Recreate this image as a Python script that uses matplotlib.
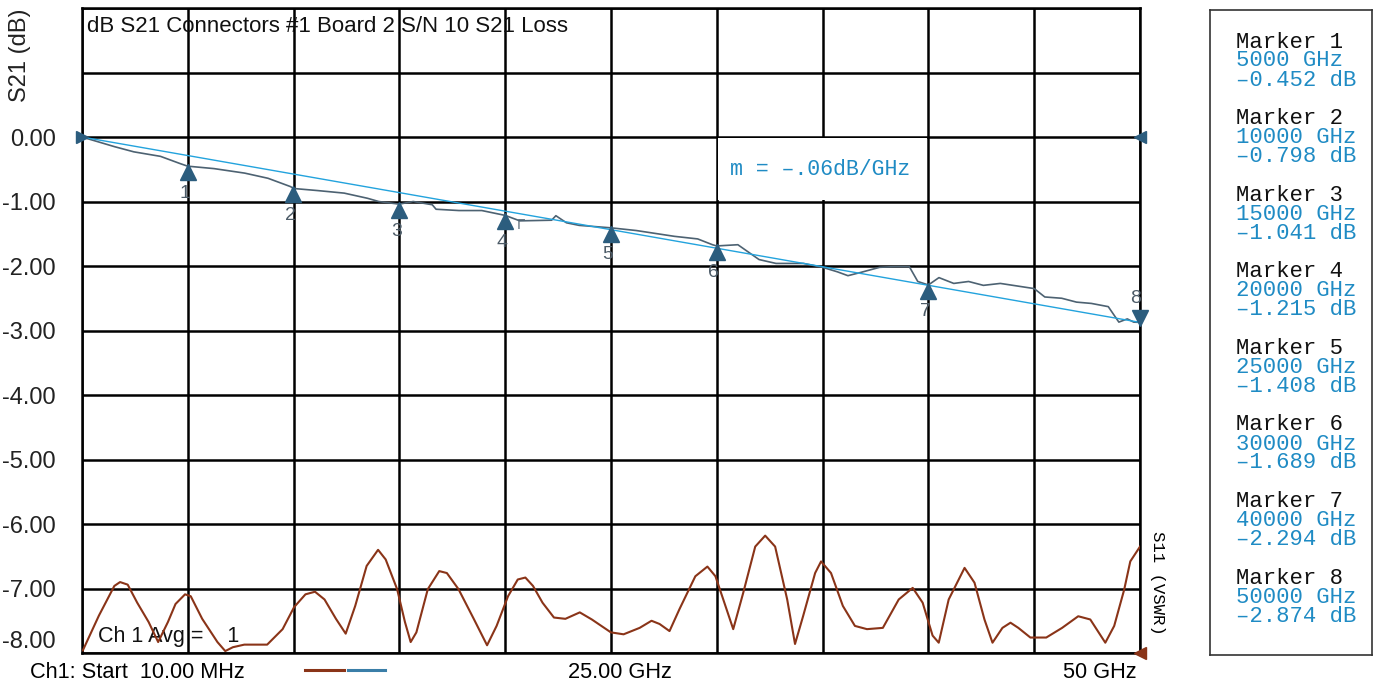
import matplotlib
matplotlib.use("Agg")
import matplotlib.pyplot as plt
import matplotlib.transforms as mtransforms
from matplotlib.lines import Line2D
from matplotlib.patches import Rectangle
import numpy as np

plt.rcParams["font.family"] = ["Liberation Sans", "DejaVu Sans"]

# S21 trace (GHz, dB)
s21_freq = [0.01, 1.55, 2.46, 3.72, 4.63, 5.0, 6.25, 7.7, 8.8, 9.87, 10.0, 11.13, 12.4,
            13.5, 14.03, 15.0, 15.66, 16.56, 16.74, 17.82, 18.9, 20.0, 20.7, 22.2, 22.4,
            22.9, 23.5, 25.0, 26.2, 28.0, 29.1, 29.8, 30.0, 31.0, 32.0, 32.8, 34.1, 35.0,
            35.7, 36.2, 36.8, 37.7, 38.4, 39.1, 39.5, 40.0, 40.5, 41.2, 41.9, 42.6, 43.4,
            44.4, 45.0, 45.5, 46.3, 47.0, 47.7, 48.5, 49.0, 49.4, 49.7, 50.0]
s21_db = [0.0, -0.15, -0.23, -0.30, -0.41, -0.452, -0.49, -0.56, -0.64, -0.77, -0.798, -0.83,
          -0.87, -0.95, -1.00, -1.041, -1.00, -1.05, -1.12, -1.14, -1.14, -1.215, -1.30,
          -1.29, -1.22, -1.33, -1.37, -1.408, -1.45, -1.54, -1.58, -1.67, -1.689, -1.67,
          -1.90, -1.96, -1.96, -2.02, -2.09, -2.15, -2.10, -2.02, -2.01, -2.01, -2.24,
          -2.294, -2.18, -2.27, -2.24, -2.30, -2.27, -2.32, -2.35, -2.48, -2.50, -2.56,
          -2.58, -2.63, -2.87, -2.82, -2.87, -2.874]

# S11 (VSWR) trace, in screen units of the left scale
s11_freq = [0.05, 0.81, 1.54, 1.81, 2.17, 2.62, 3.16, 3.61, 4.07, 4.43, 4.88, 5.15, 5.69,
            6.41, 6.78, 7.14, 7.68, 8.76, 9.49, 10.03, 10.57, 11.02, 11.47, 12.01, 12.47,
            12.92, 13.46, 14.0, 14.36, 14.9, 15.27, 15.54, 15.81, 16.35, 16.89, 17.25,
            17.8, 18.52, 19.15, 19.6, 20.14, 20.6, 20.96, 21.32, 21.77, 22.31, 22.85,
            23.53, 24.1, 25.0, 25.6, 26.36, 26.92, 27.3, 27.77, 28.24, 28.99, 29.56, 29.94,
            30.31, 30.78, 31.25, 31.82, 32.29, 32.76, 33.33, 33.7, 34.08, 34.65, 34.93,
            35.4, 35.96, 36.53, 37.1, 37.85, 38.6, 39.26, 39.73, 40.2, 40.49, 40.96, 41.71,
            42.18, 42.65, 43.03, 43.5, 43.88, 44.25, 44.82, 45.57, 46.32, 47.08, 47.65,
            48.36, 48.78, 49.25, 49.54, 50.0]
s11_val = [-7.96, -7.42, -6.96, -6.90, -6.94, -7.22, -7.52, -7.83, -7.52, -7.24, -7.09,
           -7.12, -7.47, -7.83, -7.97, -7.91, -7.87, -7.87, -7.63, -7.29, -7.09, -7.05,
           -7.17, -7.47, -7.70, -7.27, -6.65, -6.40, -6.55, -7.01, -7.52, -7.83, -7.68,
           -7.01, -6.73, -6.76, -7.01, -7.47, -7.88, -7.58, -7.12, -6.86, -6.83, -6.96,
           -7.22, -7.45, -7.47, -7.37, -7.48, -7.68, -7.71, -7.61, -7.50, -7.55, -7.66,
           -7.32, -6.81, -6.66, -6.81, -7.17, -7.63, -7.07, -6.35, -6.18, -6.35, -7.17,
           -7.86, -7.43, -6.76, -6.58, -6.76, -7.27, -7.58, -7.63, -7.61, -7.17, -6.99,
           -7.22, -7.73, -7.84, -7.17, -6.68, -6.91, -7.48, -7.84, -7.61, -7.53, -7.61,
           -7.76, -7.76, -7.61, -7.43, -7.48, -7.84, -7.58, -7.02, -6.58, -6.35]

# straight-line fit from start to marker 8
fit_freq = [0.01, 50.0]
fit_db = [0.0, -2.874]

marker_ids = [1, 2, 3, 4, 5, 6, 7, 8]
marker_freq = [5, 10, 15, 20, 25, 30, 40, 50]
marker_db = [-0.452, -0.798, -1.041, -1.215, -1.408, -1.689, -2.294, -2.874]

y_ticks = [0, -1, -2, -3, -4, -5, -6, -7, -8]

BLUE = "#1f8bc4"
TRACE = "#4d6272"
MKR = "#2c5d7e"
BROWN = "#8a3418"

fig = plt.figure(figsize=(13.8, 6.84), dpi=100)
ax = fig.add_axes([0.0594, 0.0453, 0.7667, 0.943])
ax.set_xlim(0.01, 50)
ax.set_ylim(-8, 2)

ax.set_xticks(np.linspace(0.01, 50, 11))
ax.set_xticklabels([])
ax.set_yticks(np.arange(-8, 3, 1))
ax.set_yticklabels(["%.2f" % v if v in y_ticks else "" for v in np.arange(-8, 3, 1)],
                   fontsize=17, color="#222222")
ax.get_yticklabels()[0].set_verticalalignment("bottom")
ax.tick_params(length=0)
ax.yaxis.set_tick_params(pad=19)
ax.grid(True, color="black", linewidth=1.8)
for s in ax.spines.values():
    s.set_linewidth(1.8)

ax.plot(s11_freq, s11_val, color=BROWN, lw=1.5, zorder=4)
ax.plot(s21_freq, s21_db, color=TRACE, lw=1.2, zorder=4)
ax.plot(fit_freq, fit_db, color="#23a3dd", lw=1.0, zorder=4)

# marker triangles sit just below the trace value
down = mtransforms.offset_copy(ax.transData, fig=fig, y=-6, units="dots")
up = mtransforms.offset_copy(ax.transData, fig=fig, y=4, units="dots")
for mid, f, v in zip(marker_ids, marker_freq, marker_db):
    if mid == 8:
        ax.plot(f, v, marker="v", ms=11, color=MKR, transform=up, clip_on=False, zorder=5)
        ax.annotate(str(mid), (f, v), xytext=(-4, 24), textcoords="offset pixels",
                    ha="center", va="center", fontsize=14, color="#4d5c68")
    else:
        ax.plot(f, v, marker="^", ms=11, color=MKR, transform=down, clip_on=False, zorder=5)
        ax.annotate(str(mid), (f, v), xytext=(-3, -27), textcoords="offset pixels",
                    ha="center", va="center", fontsize=14, color="#4d5c68")
ax.annotate("\u0393", (marker_freq[3], marker_db[3]), xytext=(16, -10),
            textcoords="offset pixels", ha="center", va="center", fontsize=11,
            color="#6a7884")

# reference arrows at the edges
ax.plot(0.01, 0, marker=">", ms=9, color=MKR, clip_on=False, zorder=6)
ax.plot(50, 0, marker="<", ms=9, color=MKR, clip_on=False, zorder=6)
ax.plot(50, -8, marker="<", ms=9, color=BROWN, clip_on=False, zorder=6)

ax.text(0.25, 1.72, "dB S21 Connectors #1 Board 2 S/N 10 S21 Loss", fontsize=16,
        va="center", ha="left", color="#111111")
# slope note, on a white patch that hides the grid line behind it
ax.add_patch(Rectangle((30.08, -0.983), 9.84, 0.966, facecolor="white", edgecolor="none",
                       zorder=2.8))
ax.text(34.9, -0.51, "m = \u2013.06dB/GHz", family="Liberation Mono", fontsize=15.5,
        color=BLUE, ha="center", va="center", zorder=3)
ax.text(0.75, -7.75, "Ch 1 Avg =    1", fontsize=15.5, va="center", ha="left",
        color="#111111")

fig.text(0.0145, 0.988, "S21 (dB)", rotation=90, ha="center", va="top", fontsize=17,
         color="#222222")
fig.text(1157 / 1380, 1 - 583 / 684, "S11 (VSWR)", rotation=-90, ha="center",
         va="center", family="Liberation Mono", fontsize=12.5)

fig.text(30 / 1380, 0.0175, "Ch1: Start  10.00 MHz", fontsize=15.7, va="center")
fig.text(620 / 1380, 0.0175, "25.00 GHz", fontsize=15.7, va="center", ha="center")
fig.text(1137 / 1380, 0.0175, "50 GHz", fontsize=15.7, va="center", ha="right")
fig.add_artist(Line2D([305 / 1380, 344 / 1380], [0.021, 0.021], color=BROWN, lw=2.2))
fig.add_artist(Line2D([348 / 1380, 385 / 1380], [0.021, 0.021], color="#3a7ea8", lw=2.2))

# marker readout panel
panel = fig.add_axes([0.8768, 0.0424, 0.1174, 0.943])
panel.set_xticks([])
panel.set_yticks([])
for s in panel.spines.values():
    s.set_linewidth(1.2)
    s.set_color("#333333")

for i, (mid, f, v) in enumerate(zip(marker_ids, marker_freq, marker_db)):
    y0 = 42 + 76.6 * i
    fx = 1236 / 1380
    fig.text(fx, 1 - y0 / 684, "Marker %d" % mid, family="Liberation Mono",
             fontsize=16, va="center", color="#111111")
    fig.text(fx, 1 - (y0 + 19) / 684, "%d GHz" % (f * 1000), family="Liberation Mono",
             fontsize=16, va="center", color=BLUE)
    fig.text(fx, 1 - (y0 + 38) / 684, ("%.3f dB" % v).replace("-", "\u2013"),
             family="Liberation Mono", fontsize=16, va="center", color=BLUE)

fig.savefig("out.png", dpi=100)
